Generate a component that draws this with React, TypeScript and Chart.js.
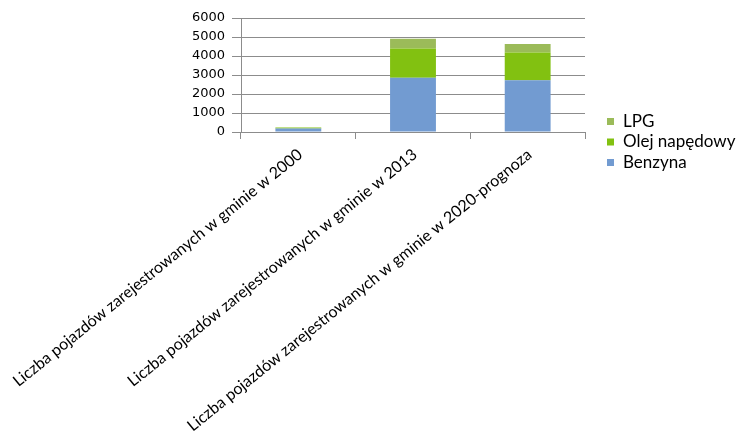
import React, { useEffect, useRef } from "react";
import { Chart, registerables } from "chart.js";

Chart.register(...registerables);

const categories = [
  "Liczba pojazdów zarejestrowanych w gminie w 2000",
  "Liczba pojazdów zarejestrowanych w gminie w 2013",
  "Liczba pojazdów zarejestrowanych w gminie w 2020-prognoza",
];
const benzyna = [190, 2850, 2730];
const olej = [45, 1540, 1450];
const lpg = [5, 520, 455];
const yTicks = [0, 1000, 2000, 3000, 4000, 5000, 6000];

const COLORS = { benzyna: "#729BD1", olej: "#82C111", lpg: "#9BBB59" };
const GRID = "#8C8C8C";
const LABEL_FONT = "Lato";

const legendItems = [
  { label: "LPG", color: COLORS.lpg },
  { label: "Olej napędowy", color: COLORS.olej },
  { label: "Benzyna", color: COLORS.benzyna },
];

const legendPlugin = {
  id: "customLegend",
  afterDraw(chart: any) {
    const ctx = chart.ctx;
    ctx.save();
    ctx.font = `17px ${LABEL_FONT}`;
    ctx.textBaseline = "middle";
    ctx.textAlign = "left";
    const x0 = chart.chartArea.right + 22;
    const yStart = 121.5;
    const gap = 20.5;
    legendItems.forEach((it, i) => {
      const y = yStart + i * gap;
      ctx.fillStyle = it.color;
      ctx.fillRect(x0, y - 3.5, 7, 7);
      ctx.fillStyle = "#000";
      ctx.fillText(it.label, x0 + 16, y);
    });
    ctx.restore();
  },
};

export default function App() {
  const ref = useRef<HTMLCanvasElement | null>(null);
  useEffect(() => {
    if (!ref.current) return;
    const chart = new Chart(ref.current, {
      type: "bar",
      data: {
        labels: categories,
        datasets: [
          { label: "Benzyna", data: benzyna, backgroundColor: COLORS.benzyna },
          { label: "Olej napędowy", data: olej, backgroundColor: COLORS.olej },
          { label: "LPG", data: lpg, backgroundColor: COLORS.lpg },
        ],
      },
      options: {
        responsive: false,
        animation: false,
        layout: { padding: { top: 18, right: 158, left: 0, bottom: 0 } },
        datasets: { bar: { barPercentage: 0.4, categoryPercentage: 1 } },
        plugins: { legend: { display: false }, tooltip: { enabled: false } },
        scales: {
          x: {
            stacked: true,
            grid: {
              offset: true,
              drawOnChartArea: false,
              drawTicks: true,
              tickLength: 7,
              color: GRID,
            },
            border: { display: true, color: GRID, width: 1 },
            ticks: {
              autoSkip: false,
              minRotation: 39,
              maxRotation: 39,
              padding: 6,
              labelOffset: 2,
              color: "#000",
              font: { family: LABEL_FONT, size: 16 },
            },
            afterFit(scale: any) {
              scale.height = 312;
              scale.paddingLeft = 0;
              scale.paddingRight = 0;
            },
          },
          y: {
            stacked: true,
            min: 0,
            max: 6000,
            afterBuildTicks(scale: any) {
              scale.ticks = yTicks.map((v) => ({ value: v }));
            },
            grid: { color: GRID, tickLength: 9, drawTicks: true },
            border: { display: true, color: GRID, width: 1 },
            ticks: {
              padding: 7,
              color: "#000",
              font: { family: "DejaVu Sans", size: 13 },
              callback: (v: any) => String(v),
            },
            afterFit(scale: any) {
              scale.width = 241;
            },
          },
        },
      },
      plugins: [legendPlugin],
    });
    return () => chart.destroy();
  }, []);
  return (
    <div style={{ position: "fixed", left: 0, top: 0, width: 743, height: 444, background: "#fff" }}>
      <canvas ref={ref} width={743} height={444} style={{ display: "block" }} />
    </div>
  );
}
